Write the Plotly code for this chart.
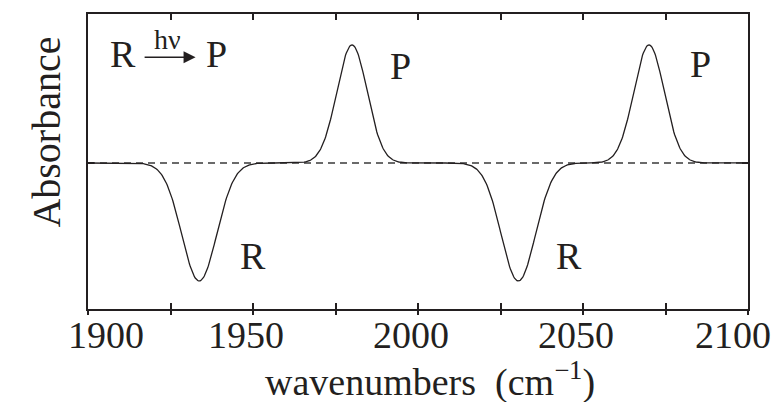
import numpy as np
import plotly.graph_objects as go

# Difference spectrum: bleached reactant bands (R, negative) and product bands (P, positive)
band_labels = ["R", "P", "R", "P"]
band_centers = [1933.7, 1980.0, 2030.4, 2070.0]     # cm^-1
band_heights = [-0.80, 0.80, -0.80, 0.80]          # absorbance change (arb.)
band_sigmas = [5.3, 4.6, 5.2, 4.6]                 # Gaussian widths, cm^-1

x_range = [1900, 2100]
tick_vals = [1900, 1950, 2000, 2050, 2100]
tick_text = ["1900", "1950", "2000", "2050", "2100"]
minor_vals = [1900, 1925, 1950, 1975, 2000, 2025, 2050, 2075, 2100]

wn = np.linspace(x_range[0], x_range[1], 801)
absorb = np.zeros_like(wn)
for c, h, s in zip(band_centers, band_heights, band_sigmas):
    absorb += h * np.exp(-0.5 * ((wn - c) / s) ** 2)

FONT = "Liberation Serif, Times New Roman, serif"
INK = "#231f20"

fig = go.Figure()
fig.add_trace(go.Scatter(x=wn, y=absorb, mode="lines",
                         line=dict(color=INK, width=1.3), hoverinfo="skip",
                         showlegend=False))
# companion trace so the outward tick axis is rendered
fig.add_trace(go.Scatter(x=x_range, y=[0, 0], xaxis="x2", mode="lines",
                         line=dict(width=0), opacity=0, hoverinfo="skip",
                         showlegend=False))

# zero baseline, drawn beneath the spectrum
fig.add_hline(y=0, layer="below",
              line=dict(color="#3a3a3a", width=1.4, dash="7px,5px"))

# band labels next to each band
label_pos = {0: (1949.9, -0.63), 1: (1994.7, 0.66), 2: (2045.8, -0.63), 3: (2085.7, 0.67)}
for i, lab in enumerate(band_labels):
    lx, ly = label_pos[i]
    fig.add_annotation(x=lx, y=ly, text=lab, showarrow=False,
                       font=dict(family=FONT, size=38, color=INK))

# reaction scheme R --hv--> P
fig.add_annotation(x=1910.6, y=0.74, text="R", showarrow=False,
                   font=dict(family=FONT, size=38, color=INK))
fig.add_annotation(x=1938.8, y=0.74, text="P", showarrow=False,
                   font=dict(family=FONT, size=38, color=INK))
fig.add_annotation(x=1924.1, y=0.84, text="hν", showarrow=False,
                   font=dict(family=FONT, size=28, color=INK))
fig.add_annotation(x=1932.6, y=0.716, ax=1916.7, ay=0.716, axref="x", ayref="y",
                   text="", showarrow=True, arrowhead=2, arrowsize=1.6,
                   arrowwidth=1.5, arrowcolor=INK, standoff=0)

# tick labels
label_shift = [18, -7, -7, -7, -15]
for v, t, dx in zip(tick_vals, tick_text, label_shift):
    fig.add_annotation(x=v, y=0, xref="x", yref="paper", yanchor="top",
                       yshift=-3, xshift=dx, text=t, showarrow=False,
                       font=dict(family=FONT, size=38, color=INK))

# axis titles
fig.add_annotation(x=0.5, y=0, xref="paper", yref="paper", yanchor="top",
                   xshift=12, yshift=-44,
                   text="wavenumbers\u00a0\u00a0(cm<sup>\u22121</sup>)", showarrow=False,
                   font=dict(family=FONT, size=38, color=INK))
fig.add_annotation(x=-0.065, y=0.60, xref="paper", yref="paper", xshift=-24,
                   text="Absorbance", textangle=-90, showarrow=False,
                   font=dict(family=FONT, size=40, color=INK))

fig.update_layout(
    width=775, height=402,
    margin=dict(l=88, r=27, t=12, b=93),
    paper_bgcolor="white", plot_bgcolor="white",
    xaxis=dict(range=x_range, tickvals=minor_vals, ticks="inside", ticklen=6,
               tickwidth=1.5, tickcolor=INK, showticklabels=False,
               showline=True, linewidth=2, linecolor=INK, mirror="ticks",
               showgrid=False, zeroline=False),
    xaxis2=dict(range=x_range, overlaying="x", anchor="y", side="bottom",
                tickvals=minor_vals, ticks="outside", ticklen=5, tickwidth=1.5,
                tickcolor=INK, showticklabels=False, showline=False,
                showgrid=False, zeroline=False),
    yaxis=dict(range=[-0.99, 1.01], tickvals=[0], ticks="inside", ticklen=6,
               tickwidth=1.5, tickcolor=INK, showticklabels=False,
               showline=True, linewidth=2, linecolor=INK, mirror="ticks",
               showgrid=False, zeroline=False),
)

fig.write_html("out.html")
